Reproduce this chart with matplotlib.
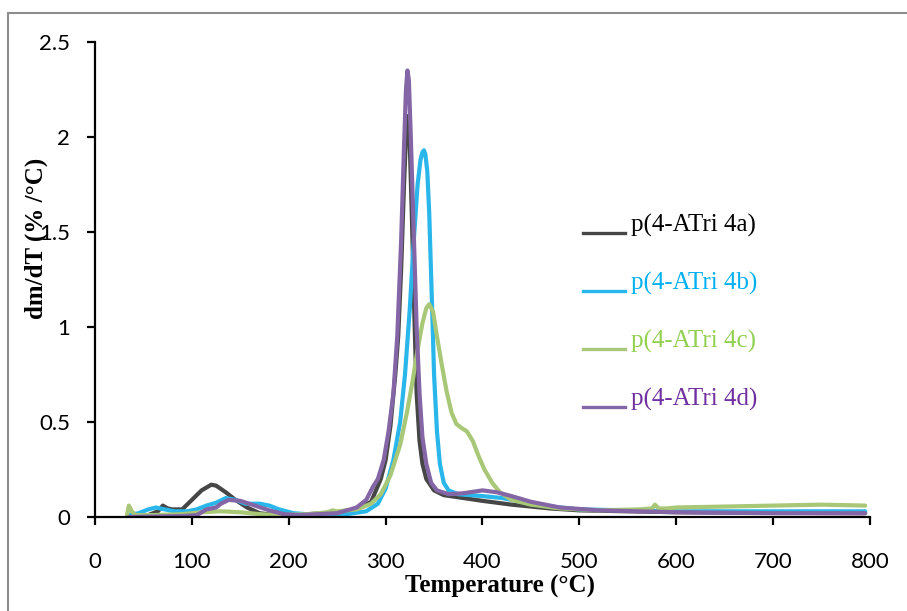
"""
Curvas DTG (dm/dT) das amostras p(4-ATri 4a-4d).
"""

import matplotlib.pyplot as plt
from matplotlib.lines import Line2D
from matplotlib.patches import Rectangle

temp_4a = [35, 55, 65, 70, 75, 80, 90, 100, 110, 120, 125, 135, 145, 157, 170,
           185, 220, 250, 270, 285, 295, 300, 305, 310, 313, 316, 319, 321,
           323, 325, 327, 330, 332, 335, 338, 342, 350, 360, 380, 400, 430,
           470, 500, 550, 600, 700, 795]
dtg_4a = [0.01, 0.01, 0.03, 0.06, 0.045, 0.04, 0.04, 0.09, 0.14, 0.17, 0.165,
          0.13, 0.09, 0.05, 0.02, 0.01, 0.015, 0.025, 0.04, 0.08, 0.2, 0.3,
          0.48, 0.75, 0.95, 1.3, 1.75, 2.0, 2.11, 1.95, 1.6, 1.0, 0.65, 0.4,
          0.28, 0.2, 0.14, 0.115, 0.1, 0.085, 0.065, 0.045, 0.035, 0.03,
          0.025, 0.022, 0.02]

temp_4b = [35, 45, 55, 63, 72, 82, 95, 105, 115, 125, 135, 145, 155, 170, 180,
           190, 205, 230, 260, 280, 292, 300, 308, 315, 320, 325, 329, 333,
           336, 338, 339.5, 341, 343, 345, 348, 350, 353, 356, 360, 365, 375,
           400, 420, 440, 470, 500, 550, 600, 700, 795]
dtg_4b = [0.01, 0.02, 0.04, 0.05, 0.04, 0.03, 0.03, 0.04, 0.06, 0.075, 0.1,
          0.09, 0.07, 0.07, 0.06, 0.04, 0.02, 0.01, 0.015, 0.03, 0.07, 0.15,
          0.3, 0.5, 0.75, 1.1, 1.45, 1.75, 1.88, 1.92, 1.93, 1.91, 1.82, 1.6,
          1.1, 0.75, 0.45, 0.28, 0.18, 0.14, 0.12, 0.11, 0.1, 0.08, 0.055,
          0.04, 0.035, 0.03, 0.03, 0.03]

temp_4c = [33, 35, 38, 42, 60, 90, 110, 130, 150, 170, 190, 220, 240, 245, 250,
           270, 285, 295, 305, 315, 322, 328, 333, 338, 342, 345, 349, 353,
           358, 363, 368, 373, 378, 384, 390, 396, 402, 410, 418, 430, 450,
           480, 520, 560, 575, 578, 582, 590, 600, 650, 700, 750, 795]
dtg_4c = [0.01, 0.06, 0.03, 0.01, 0.01, 0.015, 0.025, 0.03, 0.025, 0.015, 0.01,
          0.015, 0.025, 0.035, 0.03, 0.04, 0.07, 0.12, 0.22, 0.38, 0.55, 0.72,
          0.88, 1.02, 1.1, 1.12, 1.08, 0.95, 0.8, 0.66, 0.55, 0.49, 0.47,
          0.45, 0.4, 0.32, 0.25, 0.18, 0.13, 0.09, 0.065, 0.045, 0.035, 0.04,
          0.045, 0.065, 0.045, 0.045, 0.05, 0.055, 0.06, 0.065, 0.06]

temp_4d = [35, 90, 105, 115, 125, 130, 138, 150, 165, 180, 195, 210, 250, 270,
           280, 287, 292, 298, 303, 308, 312, 316, 319, 321, 322.5, 324, 326,
           329, 332, 335, 338, 342, 347, 353, 365, 380, 400, 415, 430, 450,
           480, 520, 600, 700, 795]
dtg_4d = [0.0, 0.005, 0.01, 0.04, 0.05, 0.07, 0.09, 0.085, 0.06, 0.035, 0.015,
          0.01, 0.02, 0.05, 0.09, 0.16, 0.2, 0.3, 0.45, 0.65, 0.95, 1.45, 1.95,
          2.25, 2.35, 2.3, 2.0, 1.5, 1.0, 0.65, 0.42, 0.28, 0.18, 0.14, 0.12,
          0.125, 0.14, 0.13, 0.11, 0.08, 0.05, 0.035, 0.025, 0.02, 0.02]

rotulos = ["p(4-ATri 4a)", "p(4-ATri 4b)", "p(4-ATri 4c)", "p(4-ATri 4d)"]
cores_linha = ["#464646", "#29B6EA", "#A8C777", "#8466A6"]
cores_texto = ["#000000", "#00B0F0", "#92D050", "#7030A0"]

series = [
    (temp_4a, dtg_4a),
    (temp_4b, dtg_4b),
    (temp_4c, dtg_4c),
    (temp_4d, dtg_4d),
]

fig = plt.figure(figsize=(9.07, 6.11), dpi=100)
ax = fig.add_axes([95 / 907, 1 - 517 / 611, 775 / 907, 475 / 611])

for (temp, dtg), cor in zip(series, cores_linha):
    ax.plot(temp, dtg, color=cor, linewidth=3.0, solid_capstyle="round",
            solid_joinstyle="round")

ax.set_xlim(0, 800)
ax.set_ylim(0, 2.5)
ax.set_xticks(range(0, 801, 100))
ax.set_yticks([0, 0.5, 1, 1.5, 2, 2.5])
ax.set_yticklabels(["0", "0.5", "1", "1.5", "2", "2.5"])

for lado in ["top", "right"]:
    ax.spines[lado].set_visible(False)
for lado in ["left", "bottom"]:
    ax.spines[lado].set_linewidth(1.6)
ax.spines["bottom"].set_zorder(5)

ax.tick_params(axis="x", direction="out", length=6, width=1.6, pad=19,
               labelsize=16)
ax.tick_params(axis="y", direction="out", length=6, width=1.6, pad=12,
               labelsize=16)
for rotulo in ax.get_xticklabels() + ax.get_yticklabels():
    rotulo.set_fontfamily("Lato")

fig.text(500 / 907, 1 - 586 / 611, "Temperature (°C)",
         family="Liberation Serif", weight="bold", fontsize=18,
         ha="center", va="center")
fig.text(36 / 907, 1 - 238 / 611, "dm/dT (% /°C)",
         family="Liberation Serif", weight="bold", fontsize=18,
         rotation=90, ha="center", va="center")

# legenda desenhada manualmente, como no gráfico original
base_y = [233, 291, 349, 407]
for y_px, rotulo, cor_l, cor_t in zip(base_y, rotulos, cores_linha, cores_texto):
    y = 1 - y_px / 611
    fig.add_artist(Line2D([583 / 907, 625 / 907], [y, y], color=cor_l,
                          linewidth=2.4, transform=fig.transFigure))
    fig.text(631 / 907, y + 1 / 611, rotulo, family="Liberation Serif",
             fontsize=18, color=cor_t, ha="left", va="baseline")

fig.add_artist(Rectangle((8 / 907, -0.05), 1.0, 1.05 - 13 / 611,
                         transform=fig.transFigure, fill=False,
                         edgecolor="#8C8C8C", linewidth=1.5))

fig.savefig("out.png", dpi=100)
